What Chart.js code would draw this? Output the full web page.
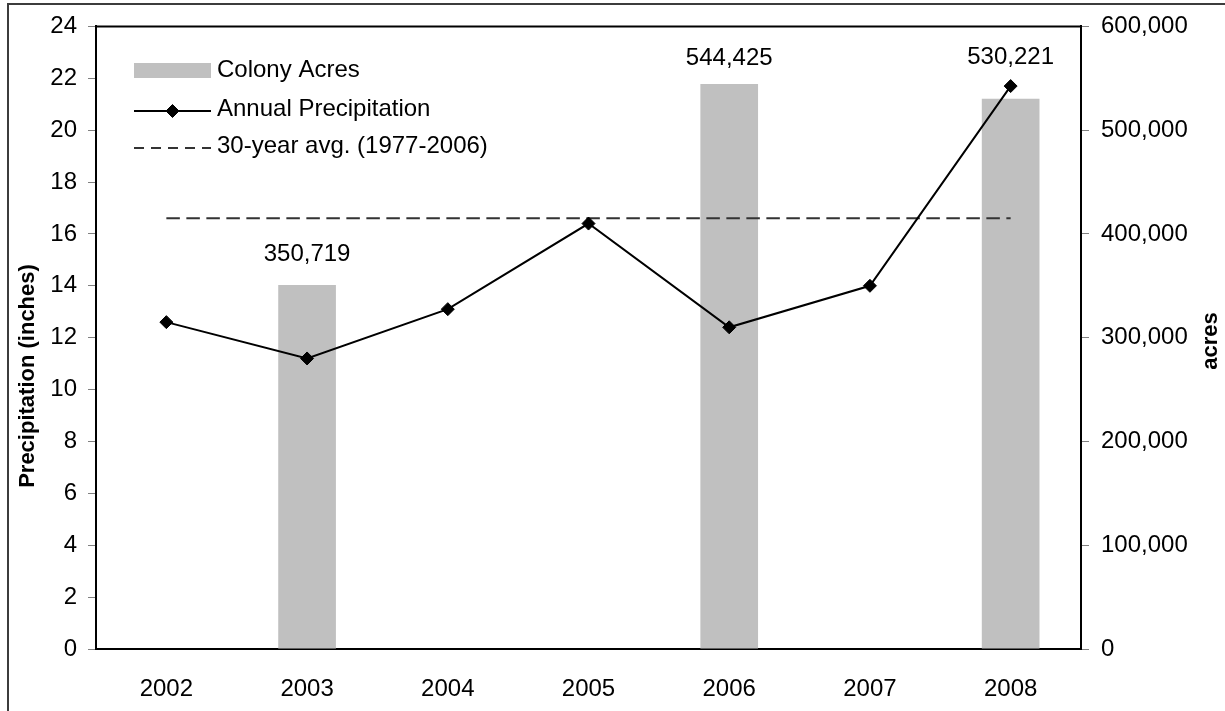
<!DOCTYPE html>
<html>
<head>
<meta charset="utf-8">
<title>Colony Acres and Annual Precipitation, 2002-2008</title>
<script src="https://cdn.jsdelivr.net/npm/chart.js@4.4.1/dist/chart.umd.min.js"></script>
<style>
  html, body { margin: 0; padding: 0; background: #ffffff; }
  #wrap { position: relative; width: 1225px; height: 711px; }
  canvas { display: block; }
</style>
</head>
<body>
<div id="wrap"><canvas id="chart" width="1225" height="711"></canvas></div>
<script>
// ---- data ----
const years = ['2002', '2003', '2004', '2005', '2006', '2007', '2008'];
const colonyAcres = [null, 350719, null, null, 544425, null, 530221];
const annualPrecip = [12.6, 11.2, 13.1, 16.4, 12.4, 14.0, 21.7];
const thirtyYearAvg = [16.6, 16.6, 16.6, 16.6, 16.6, 16.6, 16.6];
const precipAxis = { min: 0, max: 24, step: 2 };
const acresAxis = { min: 0, max: 600000, step: 100000 };
const seriesLabels = ['Colony Acres', 'Annual Precipitation', '30-year avg. (1977-2006)'];
const axisTitles = { left: 'Precipitation (inches)', right: 'acres' };

const FONT = 'Liberation Sans, Arial, Helvetica, sans-serif';
const TEXT_SIZE = 24;
const fmt = v => Number(v).toLocaleString('en-US');

// outer frame lines (left and top edges)
const framePlugin = {
  id: 'frame',
  beforeDraw(chart) {
    const ctx = chart.ctx;
    ctx.save();
    ctx.strokeStyle = '#3c3c3c';
    ctx.lineWidth = 2;
    ctx.beginPath();
    ctx.moveTo(8, chart.height);
    ctx.lineTo(8, 4);
    ctx.lineTo(chart.width, 4);
    ctx.stroke();
    ctx.restore();
  }
};

// top edge of the plot area
const plotBoxPlugin = {
  id: 'plotBox',
  afterDraw(chart) {
    const { ctx, chartArea: a } = chart;
    ctx.save();
    ctx.strokeStyle = '#000';
    ctx.lineWidth = 2;
    ctx.beginPath();
    ctx.moveTo(a.left - 1, a.top);
    ctx.lineTo(a.right + 1, a.top);
    ctx.stroke();
    ctx.restore();
  }
};

// value labels above the colony bars
const barLabelPlugin = {
  id: 'barLabels',
  afterDatasetsDraw(chart, args, opts) {
    const ctx = chart.ctx;
    const meta = chart.getDatasetMeta(0);
    const data = chart.data.datasets[0].data;
    ctx.save();
    ctx.font = TEXT_SIZE + 'px ' + FONT;
    ctx.fillStyle = '#000';
    ctx.textAlign = 'center';
    ctx.textBaseline = 'middle';
    meta.data.forEach((bar, i) => {
      if (data[i] == null) return;
      const lift = (opts.lift && opts.lift[i]) || 30;
      ctx.fillText(fmt(data[i]), bar.x, bar.y - lift);
    });
    ctx.restore();
  }
};

// legend inside the plot area
const legendPlugin = {
  id: 'insetLegend',
  afterDraw(chart, args, opts) {
    const ctx = chart.ctx;
    const ds = chart.data.datasets;
    const x0 = opts.x, x1 = opts.x + opts.sampleWidth;
    ctx.save();

    // bar swatch
    ctx.fillStyle = ds[0].backgroundColor;
    ctx.fillRect(x0, opts.sampleY[0] - 7.5, opts.sampleWidth, 15);

    // line with diamond marker
    ctx.strokeStyle = ds[1].borderColor;
    ctx.lineWidth = ds[1].borderWidth;
    ctx.beginPath();
    ctx.moveTo(x0, opts.sampleY[1]);
    ctx.lineTo(x1, opts.sampleY[1]);
    ctx.stroke();
    const r = ds[1].pointRadius, cx = (x0 + x1) / 2, cy = opts.sampleY[1];
    ctx.fillStyle = ds[1].pointBackgroundColor;
    ctx.strokeStyle = ds[1].pointBorderColor;
    ctx.lineWidth = 1;
    ctx.beginPath();
    ctx.moveTo(cx, cy - r); ctx.lineTo(cx + r, cy); ctx.lineTo(cx, cy + r); ctx.lineTo(cx - r, cy);
    ctx.closePath();
    ctx.fill();
    ctx.stroke();

    // dashed line sample
    ctx.save();
    ctx.beginPath();
    ctx.rect(x0, opts.sampleY[2] - 5, opts.sampleWidth, 10);
    ctx.clip();
    ctx.strokeStyle = ds[2].borderColor;
    ctx.lineWidth = ds[2].borderWidth;
    ctx.setLineDash(opts.sampleDash);
    ctx.beginPath();
    ctx.moveTo(x0, opts.sampleY[2]);
    ctx.lineTo(x1 + 10, opts.sampleY[2]);
    ctx.stroke();
    ctx.restore();

    ctx.font = TEXT_SIZE + 'px ' + FONT;
    ctx.fillStyle = '#000';
    ctx.textAlign = 'left';
    ctx.textBaseline = 'middle';
    ds.forEach((d, i) => ctx.fillText(d.label, opts.textX, opts.textY[i]));
    ctx.restore();
  }
};

// rotated axis titles
const axisTitlePlugin = {
  id: 'axisTitles',
  afterDraw(chart, args, opts) {
    const ctx = chart.ctx;
    ctx.save();
    ctx.fillStyle = '#000';
    ctx.textAlign = 'center';
    ctx.textBaseline = 'middle';
    opts.items.forEach(t => {
      ctx.save();
      ctx.font = 'bold ' + t.size + 'px ' + FONT;
      ctx.translate(t.x, t.y);
      ctx.rotate(-Math.PI / 2);
      ctx.fillText(t.text, 0, 0);
      ctx.restore();
    });
    ctx.restore();
  }
};

const tickFont = { family: FONT, size: TEXT_SIZE };

new Chart(document.getElementById('chart'), {
  data: {
    labels: years,
    datasets: [
      {
        type: 'bar',
        label: seriesLabels[0],
        data: colonyAcres,
        yAxisID: 'y1',
        backgroundColor: '#c0c0c0',
        borderWidth: 0,
        barPercentage: 0.41,
        categoryPercentage: 1.0,
        order: 3
      },
      {
        type: 'line',
        label: seriesLabels[1],
        data: annualPrecip,
        yAxisID: 'y',
        borderColor: '#000000',
        borderWidth: 2,
        tension: 0,
        pointStyle: 'rectRot',
        pointRadius: 6.5,
        pointBorderWidth: 1,
        pointBackgroundColor: '#000000',
        pointBorderColor: '#000000',
        order: 1
      },
      {
        type: 'line',
        label: seriesLabels[2],
        data: thirtyYearAvg,
        yAxisID: 'y',
        borderColor: '#333333',
        borderWidth: 2,
        borderDash: [13.5, 6.5],
        pointRadius: 0,
        tension: 0,
        order: 2
      }
    ]
  },
  options: {
    responsive: false,
    devicePixelRatio: 1,
    animation: false,
    events: [],
    layout: { padding: { top: 25, left: 0, right: 0, bottom: 0 } },
    plugins: {
      legend: { display: false },
      tooltip: { enabled: false },
      title: { display: false },
      barLabels: { lift: { 1: 31, 4: 26, 6: 41 } },
      insetLegend: {
        x: 134, sampleWidth: 77, textX: 217,
        sampleY: [70.5, 111, 148],
        textY: [70, 109, 146],
        sampleDash: [10, 7]
      },
      axisTitles: {
        items: [
          { text: axisTitles.left, x: 28, y: 376, size: 22 },
          { text: axisTitles.right, x: 1211, y: 341, size: 22 }
        ]
      }
    },
    scales: {
      x: {
        type: 'category',
        offset: true,
        grid: { display: false },
        border: { display: true, color: '#000', width: 2 },
        ticks: { color: '#000', font: tickFont, padding: 18, maxRotation: 0 },
        afterFit(s) { s.height = 62; }
      },
      y: {
        position: 'left',
        min: precipAxis.min,
        max: precipAxis.max,
        ticks: { stepSize: precipAxis.step, color: '#000', font: tickFont, padding: 11 },
        grid: { drawOnChartArea: false, drawTicks: true, tickLength: 8, tickColor: '#808080', lineWidth: 1 },
        border: { display: true, color: '#000', width: 2 },
        afterFit(s) { s.width = 96; }
      },
      y1: {
        position: 'right',
        min: acresAxis.min,
        max: acresAxis.max,
        ticks: { stepSize: acresAxis.step, color: '#000', font: tickFont, padding: 12, callback: v => fmt(v) },
        grid: { drawOnChartArea: false, drawTicks: true, tickLength: 8, tickColor: '#808080', lineWidth: 1 },
        border: { display: true, color: '#000', width: 2 },
        afterFit(s) { s.width = 144; }
      }
    }
  },
  plugins: [framePlugin, plotBoxPlugin, barLabelPlugin, legendPlugin, axisTitlePlugin]
});
</script>
</body>
</html>
